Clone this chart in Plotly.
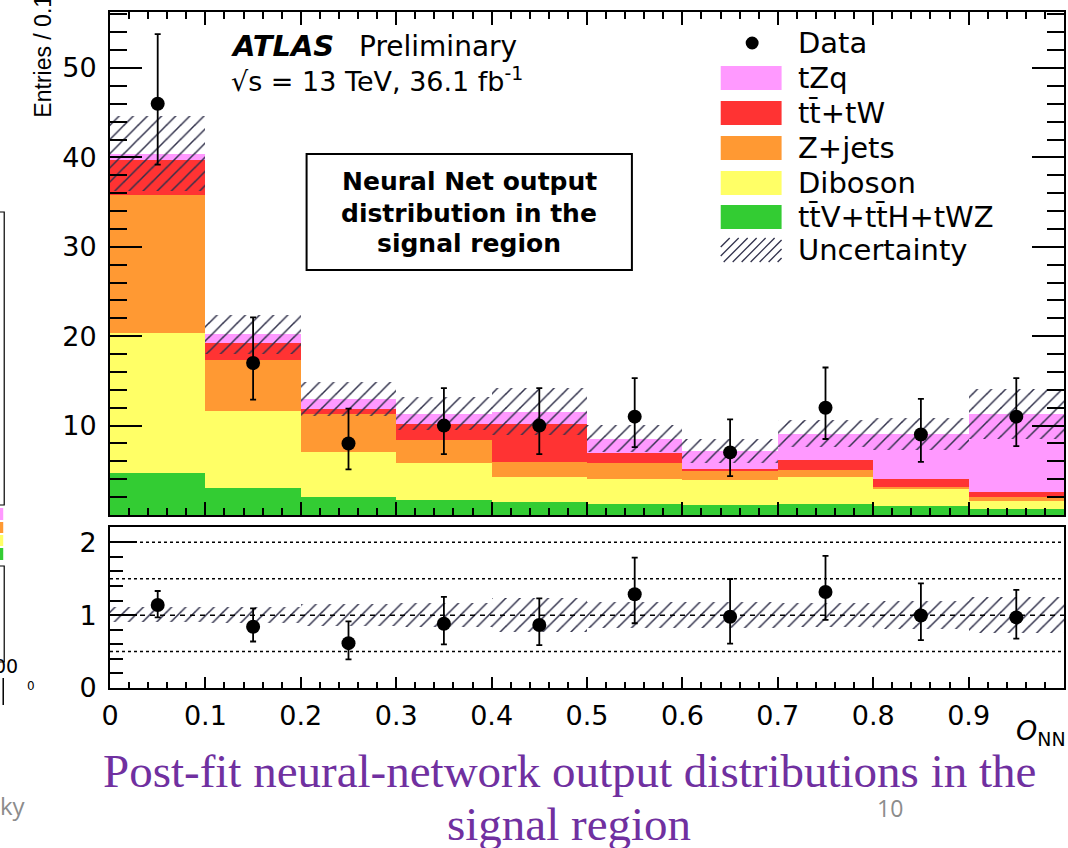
import numpy as np
import plotly.graph_objects as go

# ---------------- data ----------------
bin_centres = [0.05, 0.15, 0.25, 0.35, 0.45, 0.55, 0.65, 0.75, 0.85, 0.95]
bin_width = 0.1

# stacked backgrounds/signal, bottom to top
ttv = [4.7, 3.05, 2.0, 1.68, 1.4, 1.2, 1.1, 1.2, 1.05, 0.67]
diboson = [15.7, 8.6, 5.0, 4.12, 2.8, 2.85, 2.8, 3.05, 1.9, 0.93]
zjets = [15.35, 5.65, 4.25, 2.6, 1.7, 1.8, 1.05, 0.75, 0.2, 0.45]
ttw = [3.95, 1.9, 0.6, 1.8, 4.3, 1.05, 0.25, 1.2, 0.85, 0.5]
tzq = [0.7, 1.0, 1.15, 1.15, 1.35, 1.65, 1.95, 2.9, 5.05, 8.8]
total_unc = [4.2, 2.2, 1.9, 1.85, 2.65, 1.5, 1.3, 1.5, 1.75, 2.8]

data = [46, 17, 8, 10, 10, 11, 7, 12, 9, 11]
data_err_up = [7.8, 5.1, 3.9, 4.2, 4.2, 4.3, 3.7, 4.5, 4.0, 4.3]
data_err_dn = [6.8, 4.1, 2.9, 3.2, 3.2, 3.4, 2.65, 3.5, 3.05, 3.3]

process_names = ["tt\u0304V+tt\u0304H+tWZ", "Diboson", "Z+jets", "tt\u0304+tW", "tZq"]
process_colors = ["#33cc33", "#ffff66", "#ff9933", "#ff3333", "#ff99ff"]
stack = [ttv, diboson, zjets, ttw, tzq]

upper_ticks = [10, 20, 30, 40, 50]
ratio_ticks = [0, 1, 2]
ratio_guides = [0.5, 1.5, 2.0]

HATCH_COLOR = "#30304a"
FONT = "DejaVu Sans"

# ---------------- page geometry (pixels) ----------------
W, H = 1068, 848
L, R, T, B = 110, 2, 12, 160
PW, PH = W - L - R, H - T - B


def px(x):
    return (x - L) / PW


def py(y):
    return (H - B - y) / PH


fig = go.Figure()

# stacked histogram
base = np.zeros(len(bin_centres))
for comp, col, name in zip(stack, process_colors, process_names):
    comp = np.asarray(comp, dtype=float)
    fig.add_trace(go.Bar(
        x=bin_centres, y=comp, base=base.copy(), width=bin_width, name=name,
        marker=dict(color=col, line=dict(width=0)), opacity=1,
        xaxis="x", yaxis="y", showlegend=False, hoverinfo="skip"))
    base = base + comp
total = base
unc = np.asarray(total_unc, dtype=float)

# hatched uncertainty band
hatch = dict(shape="/", size=10, solidity=0.15, fillmode="replace")
fig.add_trace(go.Bar(
    x=bin_centres, y=2 * unc, base=total - unc, width=bin_width, name="Uncertainty",
    marker=dict(color=HATCH_COLOR, line=dict(width=0), pattern=hatch),
    xaxis="x", yaxis="y", showlegend=False, hoverinfo="skip"))

# data points
fig.add_trace(go.Scatter(
    x=bin_centres, y=data, mode="markers", name="Data",
    marker=dict(color="black", size=14),
    error_y=dict(type="data", symmetric=False, array=data_err_up,
                 arrayminus=data_err_dn, color="black", thickness=1.8, width=3),
    xaxis="x", yaxis="y", showlegend=False))

# ---------------- ratio panel ----------------
data_arr = np.asarray(data, dtype=float)
ratio = data_arr / total
ratio_up = np.asarray(data_err_up) / total
ratio_dn = np.asarray(data_err_dn) / total
rel_unc = unc / total

fig.add_trace(go.Bar(
    x=bin_centres, y=2 * rel_unc, base=1 - rel_unc, width=bin_width,
    marker=dict(color=HATCH_COLOR, line=dict(width=0), pattern=hatch),
    xaxis="x2", yaxis="y2", showlegend=False, hoverinfo="skip"))

fig.add_trace(go.Scatter(
    x=bin_centres, y=ratio, mode="markers",
    marker=dict(color="black", size=14),
    error_y=dict(type="data", symmetric=False, array=ratio_up,
                 arrayminus=ratio_dn, color="black", thickness=1.8, width=3),
    xaxis="x2", yaxis="y2", showlegend=False))

shapes = []
for g in ratio_guides:
    shapes.append(dict(type="line", xref="x2", yref="y2", x0=0, x1=1, y0=g, y1=g,
                       line=dict(color="black", width=1.5, dash="dot")))
shapes.append(dict(type="line", xref="x2", yref="y2", x0=0, x1=1, y0=1, y1=1,
                   line=dict(color="black", width=1.5, dash="5px,5px")))

# ---------------- text box ----------------
shapes.append(dict(type="rect", xref="paper", yref="paper",
                   x0=px(307), x1=px(633), y0=py(270), y1=py(154),
                   line=dict(color="black", width=2), fillcolor="white", layer="above"))

annotations = []
for txt, yc in zip(["Neural Net output", "distribution in the", "signal region"],
                   [181, 213, 244]):
    annotations.append(dict(text=f"<b>{txt}</b>", x=px(470), y=py(yc), xref="paper",
                            yref="paper", xanchor="center", yanchor="middle",
                            showarrow=False, font=dict(family=FONT, size=25, color="black")))

# ATLAS label
annotations.append(dict(text="<b><i>ATLAS</i></b>", x=px(229), y=py(46), xref="paper",
                        yref="paper", xanchor="left", yanchor="middle", showarrow=False,
                        font=dict(family=FONT, size=29, color="black")))
annotations.append(dict(text="Preliminary", x=px(358), y=py(46), xref="paper",
                        yref="paper", xanchor="left", yanchor="middle", showarrow=False,
                        font=dict(family=FONT, size=28, color="black")))
annotations.append(dict(text="\u221as = 13 TeV, 36.1 fb<sup>-1</sup>", x=px(229), y=py(80),
                        xref="paper", yref="paper", xanchor="left", yanchor="middle",
                        showarrow=False, font=dict(family=FONT, size=27, color="black")))

# ---------------- legend ----------------
legend_labels = ["Data", "tZq", "tt\u0304+tW", "Z+jets", "Diboson",
                 "tt\u0304V+tt\u0304H+tWZ", "Uncertainty"]
legend_fill = [None] + process_colors[::-1] + ["hatch"]
row_y = [43, 78, 113, 148, 183, 217, 250]
for lab, fill, yc in zip(legend_labels, legend_fill, row_y):
    annotations.append(dict(text=lab, x=px(797), y=py(yc), xref="paper", yref="paper",
                            xanchor="left", yanchor="middle", showarrow=False,
                            font=dict(family=FONT, size=29, color="black")))
    if fill is None:
        shapes.append(dict(type="circle", xref="paper", yref="paper",
                           x0=px(747), x1=px(760), y0=py(yc + 6.5), y1=py(yc - 6.5),
                           fillcolor="black", line=dict(width=0)))
    elif fill == "hatch":
        x_lo, x_hi, y_lo, y_hi = 722, 783, yc + 12, yc - 12
        span = y_lo - y_hi
        for c in np.arange(x_lo - span, x_hi, 9.0):
            t0 = max(0.0, x_lo - c)
            t1 = min(span, x_hi - c)
            if t1 <= t0:
                continue
            shapes.append(dict(type="line", xref="paper", yref="paper",
                               x0=px(c + t0), y0=py(y_lo - t0),
                               x1=px(c + t1), y1=py(y_lo - t1),
                               line=dict(color=HATCH_COLOR, width=1.3)))
    else:
        shapes.append(dict(type="rect", xref="paper", yref="paper",
                           x0=px(722), x1=px(783), y0=py(yc + 12), y1=py(yc - 12),
                           fillcolor=fill, line=dict(width=0)))

# axis titles
annotations.append(dict(text="Entries / 0.1", x=px(42), y=py(120), xref="paper",
                        yref="paper", xanchor="center", yanchor="bottom", textangle=-90,
                        showarrow=False,
                        font=dict(family="Liberation Sans", size=23, color="black")))
annotations.append(dict(text="<i>O</i><sub>NN</sub>", x=px(1070), y=py(732),
                        xref="paper", yref="paper", xanchor="right", yanchor="middle",
                        showarrow=False, font=dict(family=FONT, size=27, color="black")))

# slide caption and footer
CAPTION = "#7030a0"
annotations.append(dict(text="Post-fit neural-network output distributions in the",
                        x=px(570), y=py(771), xref="paper", yref="paper",
                        xanchor="center", yanchor="middle", showarrow=False,
                        font=dict(family="Liberation Serif", size=47, color=CAPTION)))
annotations.append(dict(text="signal region", x=px(570), y=py(824), xref="paper",
                        yref="paper", xanchor="center", yanchor="middle", showarrow=False,
                        font=dict(family="Liberation Serif", size=47, color=CAPTION)))
annotations.append(dict(text="10", x=px(892), y=py(808), xref="paper", yref="paper",
                        xanchor="center", yanchor="middle", showarrow=False,
                        font=dict(family="Open Sans", size=23, color="#8c8c8c")))
annotations.append(dict(text="ky", x=px(28), y=py(806), xref="paper", yref="paper",
                        xanchor="right", yanchor="middle", showarrow=False,
                        font=dict(family="Open Sans", size=24, color="#8c8c8c")))
annotations.append(dict(text="00", x=px(20), y=py(666), xref="paper", yref="paper",
                        xanchor="right", yanchor="middle", showarrow=False,
                        font=dict(family=FONT, size=19, color="black")))
annotations.append(dict(text="0", x=px(31), y=py(686), xref="paper", yref="paper",
                        xanchor="center", yanchor="middle", showarrow=False,
                        font=dict(family=FONT, size=12, color="black")))

# neighbouring panel edge on the slide
shapes.append(dict(type="rect", xref="paper", yref="paper", x0=px(-3), x1=px(4),
                   y0=py(505), y1=py(212), line=dict(color="black", width=1.2),
                   fillcolor="white"))
for col, y0, y1 in zip(["#ff99ff", "#ff9933", "#ffff66", "#33cc33"],
                       [508, 522, 535, 548], [520, 533, 546, 560]):
    shapes.append(dict(type="rect", xref="paper", yref="paper", x0=px(-3), x1=px(3),
                       y0=py(y1), y1=py(y0), fillcolor=col, line=dict(width=0)))
shapes.append(dict(type="rect", xref="paper", yref="paper", x0=px(-3), x1=px(4),
                   y0=py(662), y1=py(566), line=dict(color="black", width=1.2),
                   fillcolor="white"))
shapes.append(dict(type="line", xref="paper", yref="paper", x0=px(3), x1=px(3),
                   y0=py(705), y1=py(678), line=dict(color="black", width=1.5)))

# ---------------- axes ----------------
axis_common = dict(showgrid=False, zeroline=False, showline=True, linecolor="black",
                   linewidth=2, ticks="inside", tickcolor="black", tickwidth=2)
tickfont = dict(family=FONT, size=27, color="black")

fig.update_layout(
    width=W, height=H,
    margin=dict(l=L, r=R, t=T, b=B, pad=0),
    paper_bgcolor="white", plot_bgcolor="white",
    barmode="overlay", bargap=0,
    font=dict(family=FONT, color="black"),
    showlegend=False,
    xaxis=dict(axis_common, domain=[0, 1], range=[0, 1], anchor="y",
               tickmode="linear", tick0=0, dtick=0.1, ticklen=13,
               showticklabels=False, mirror="ticks",
               minor=dict(ticks="inside", dtick=0.02, tick0=0, ticklen=7,
                          tickcolor="black", tickwidth=1.5, showgrid=False)),
    yaxis=dict(axis_common, domain=[py(515), 1], range=[0, (515 - 12) / 8.94],
               anchor="x", tickmode="array", tickvals=upper_ticks, ticklen=32,
               mirror="ticks", tickfont=tickfont, ticklabelstandoff=6,
               minor=dict(ticks="inside", dtick=2, tick0=0, ticklen=17,
                          tickcolor="black", tickwidth=1.5, showgrid=False)),
    xaxis2=dict(axis_common, domain=[0, 1], range=[0, 1], anchor="y2",
                tickmode="linear", tick0=0, dtick=0.1, ticklen=11,
                tickfont=tickfont, mirror=True, ticklabelstandoff=3,
                minor=dict(ticks="inside", dtick=0.02, tick0=0, ticklen=6,
                           tickcolor="black", tickwidth=1.5, showgrid=False)),
    yaxis2=dict(axis_common, domain=[0, py(527.3)], range=[0, (688 - 527.3) / 72.85],
                anchor="x2", tickmode="array", tickvals=ratio_ticks, ticklen=27,
                tickfont=tickfont, mirror=True, ticklabelstandoff=6,
                minor=dict(ticks="inside", dtick=0.2, tick0=0, ticklen=13,
                           tickcolor="black", tickwidth=1.5, showgrid=False)),
    shapes=shapes,
    annotations=annotations,
)

fig.write_html("out.html")
